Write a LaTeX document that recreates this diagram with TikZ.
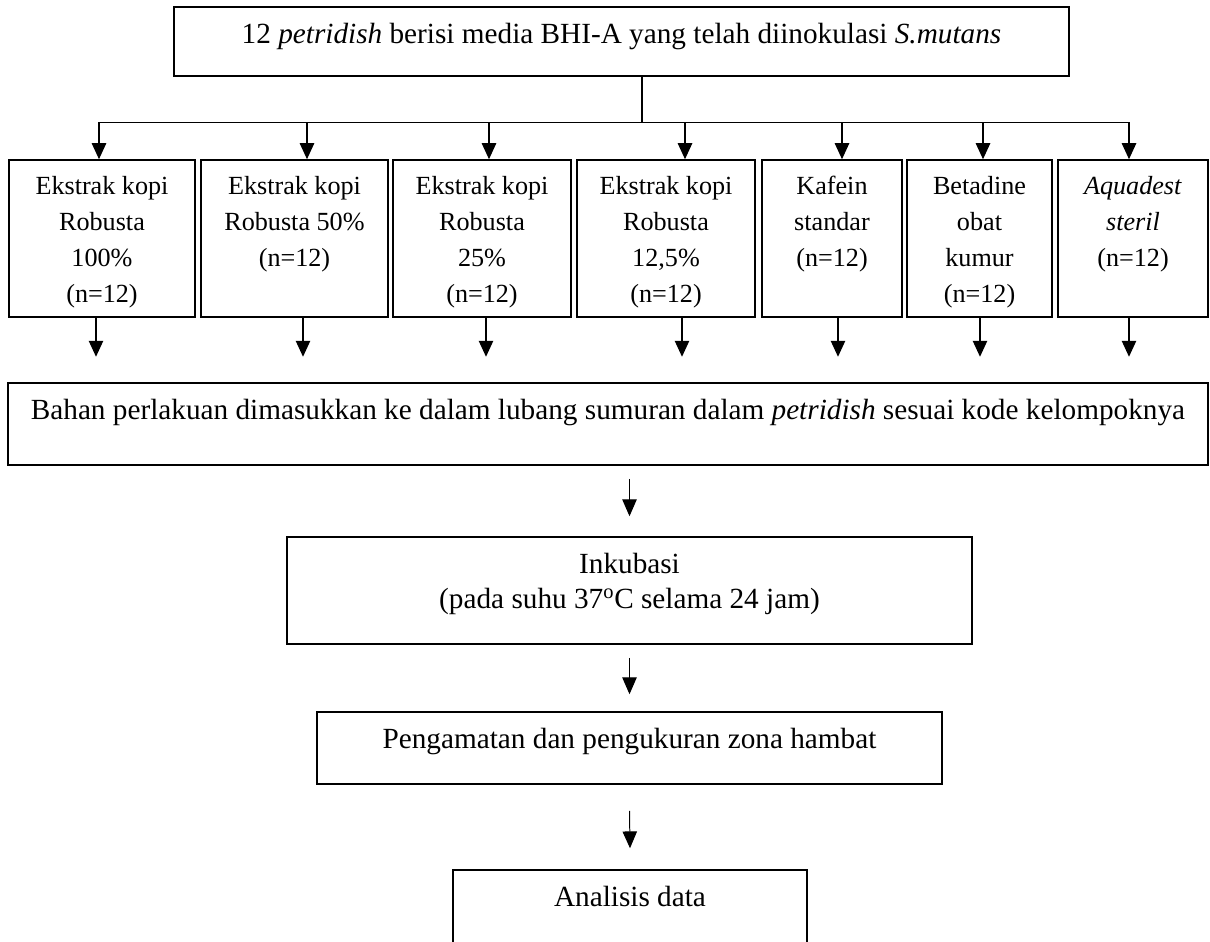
\documentclass[tikz,border=0pt]{standalone}
\usepackage{fontspec}
\setmainfont{Liberation Serif}
\usetikzlibrary{positioning,arrows.meta,calc}

\newcommand{\pxu}{0.025cm}

\begin{document}
\begin{tikzpicture}[x=\pxu, y=-\pxu,
  font=\fontsize{20.8}{24.9}\selectfont,
  every node/.style={align=center, inner sep=0pt},
  box/.style 2 args={draw, line width=1.1pt, minimum width=#1*\pxu, minimum height=#2*\pxu},
  grp/.style={box={#1}{157}},
  small/.style={font=\fontsize{18.6}{25.6}\selectfont},
  line/.style={line width=0.9pt},
  arr/.style={line width=0.9pt, -{Triangle[width=0.36cm,length=0.4cm]}},
  thin arr/.style={line width=0.7pt, -{Triangle[width=0.36cm,length=0.42cm]}}]
  \clip (0,0) rectangle (1210,941);

  % starting plates
  \node[box={895}{69}] (plates) at (621.5,41.5) {};
  \node[below=0.425cm of plates.north]
    {12 \textit{petridish} berisi media BHI-A yang telah diinokulasi \textit{S.mutans}};

  % treatment groups
  \node[grp=186] (k100) at (102,238.5) {};
  \node[grp=187] (k50) at (294.5,238.5) {};
  \node[grp=178] (k25) at (482,238.5) {};
  \node[grp=178] (k125) at (666,238.5) {};
  \node[grp=140] (kafein) at (832,238.5) {};
  \node[grp=145] (betadine) at (979.5,238.5) {};
  \node[grp=150] (steril) at (1133,238.5) {};
  \node[small, below=0.425cm of k100.north] {Ekstrak kopi\\Robusta\\100\%\\(n=12)};
  \node[small, below=0.425cm of k50.north] {Ekstrak kopi\\Robusta 50\%\\(n=12)};
  \node[small, below=0.425cm of k25.north] {Ekstrak kopi\\Robusta\\25\%\\(n=12)};
  \node[small, below=0.425cm of k125.north] {Ekstrak kopi\\Robusta\\12,5\%\\(n=12)};
  \node[small, below=0.425cm of kafein.north] {Kafein\\standar\\(n=12)};
  \node[small, below=0.425cm of betadine.north] {Betadine\\obat\\kumur\\(n=12)};
  \node[small, below=0.425cm of steril.north] {\textit{Aquadest}\\\textit{steril}\\(n=12)};

  % fan out
  \coordinate (fork) at (642,123);
  \draw[line] (plates.south -| fork) -- (fork);
  \draw[line] ($(k100.north)+(-3,-37)$) -- ($(steril.north)+(-4,-37)$);
  \foreach \n/\up/\dn in {k100/-3/-6, k50/12.5/8.5, k25/7/4, k125/19/16,
                          kafein/10/6, betadine/3.5/0.5, steril/-4/-4} {
    \draw[arr] ($(\n.north)+(\up,-37)$) -- ($(\n.north)+(\up,0)$);
    \draw[arr] ($(\n.south)+(\dn,0)$) -- ($(\n.south)+(\dn,39)$);
  }

  % procedure
  \node[box={1200}{82}] (insert) at (608,424) {};
  \node[below=0.425cm of insert.north]
    {Bahan perlakuan dimasukkan ke dalam lubang sumuran dalam \textit{petridish} sesuai kode kelompoknya};
  \node[box={685}{107}] (incub) at (629.5,590.5) {};
  \node[below=0.425cm of incub.north]
    {Inkubasi\\(pada suhu 37\textsuperscript{o}C selama 24 jam)};
  \node[box={625}{72}] (measure) at (629.5,748) {};
  \node[below=0.425cm of measure.north] {Pengamatan dan pengukuran zona hambat};
  \node[box={354}{100}] (analysis) at (630,920) {};
  \node[below=0.425cm of analysis.north] {Analisis data};

  \draw[thin arr] ($(insert.south -| incub.north)+(0,13)$) -- ($(incub.north)+(0,-20)$);
  \draw[thin arr] ($(incub.south)+(0,13)$) -- ($(measure.north)+(0,-17)$);
  \draw[thin arr] ($(measure.south)+(0,26)$) -- ($(analysis.north)+(0,-21)$);
\end{tikzpicture}
\end{document}
